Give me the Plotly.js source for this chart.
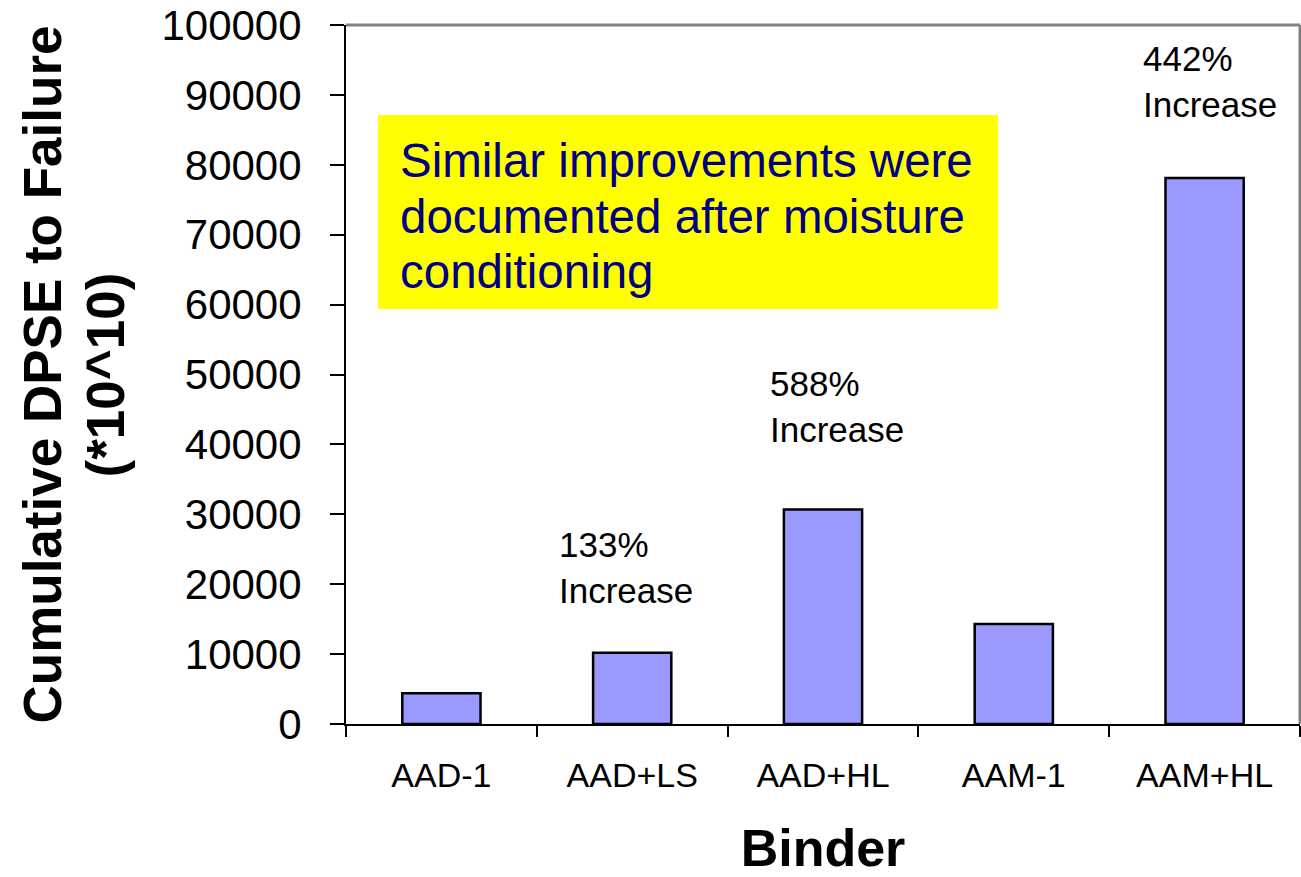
<!DOCTYPE html>
<html>
<head>
<meta charset="utf-8">
<script src="https://cdn.plot.ly/plotly-3.0.1.min.js"></script>
<style>html,body{margin:0;padding:0;background:#fff;}#chart{width:1301px;height:877px;}</style>
</head>
<body>
<div id="chart"></div>
<script>
const categories = ["AAD-1", "AAD+LS", "AAD+HL", "AAM-1", "AAM+HL"];
const dpseValues = [4400, 10200, 30700, 14300, 78100];
const increaseLabels = ["133%<br>Increase", "588%<br>Increase", "442%<br>Increase"];
const yTickValues = [0, 10000, 20000, 30000, 40000, 50000, 60000, 70000, 80000, 90000, 100000];
const noteLines = ["Similar improvements were", "documented after moisture", "conditioning"];
const yTitleLines = ["Cumulative DPSE to Failure", "(*10^10)"];
const xTitle = "Binder";

const FONT = "Liberation Sans, Arial, sans-serif";
// plot-area pixel geometry helpers (layout only)
const L = 346, T = 25, W = 954, H = 699;
const px = v => (v - L) / W;
const py = v => (T + H - v) / H;

const trace = {
  type: "bar",
  x: categories,
  y: dpseValues,
  marker: {color: "#9999FF", line: {color: "#000000", width: 2.5}},
  width: 0.41,
  hoverinfo: "x+y"
};

const annotations = [
  {x: px(557), y: py(523), text: increaseLabels[0]},
  {x: px(768), y: py(362), text: increaseLabels[1]},
  {x: px(1141), y: py(37), text: increaseLabels[2]}
].map(a => Object.assign({xref: "paper", yref: "paper", xanchor: "left", yanchor: "top",
  showarrow: false, align: "left", font: {family: FONT, size: 35, color: "#000000"}}, a));

const noteY = [160, 216, 271];
noteLines.forEach((t, i) => annotations.push({
  xref: "paper", yref: "paper", x: px(398), y: py(noteY[i]), xanchor: "left", yanchor: "middle",
  text: t, showarrow: false, align: "left", font: {family: FONT, size: 47.5, color: "#000080"}
}));

const titleX = [42, 105];
yTitleLines.forEach((t, i) => annotations.push({
  xref: "paper", yref: "paper", x: px(titleX[i]), y: 0.5, xanchor: "center", yanchor: "middle",
  text: t, textangle: -90, showarrow: false,
  font: {family: FONT, size: 53, color: "#000000", weight: "bold"}
}));

const layout = {
  width: 1301,
  height: 877,
  margin: {l: L, r: 1, t: T, b: 877 - T - H},
  paper_bgcolor: "#ffffff",
  plot_bgcolor: "#ffffff",
  showlegend: false,
  font: {family: FONT, color: "#000000"},
  xaxis: {
    type: "category",
    range: [-0.5, 4.5],
    showline: true, linecolor: "#000000", linewidth: 2,
    ticks: "outside", tickson: "boundaries", ticklen: 11, tickwidth: 1.5, tickcolor: "#000000",
    showgrid: false, zeroline: false,
    tickfont: {family: FONT, size: 34, color: "#000000"},
    ticklabelstandoff: 20,
    title: {text: xTitle, font: {family: FONT, size: 52, color: "#000000", weight: "bold"}, standoff: 47}
  },
  yaxis: {
    range: [0, 100000],
    tickvals: yTickValues,
    ticktext: yTickValues.map(String),
    showline: true, linecolor: "#000000", linewidth: 2,
    ticks: "outside", ticklen: 14, tickwidth: 1.5, tickcolor: "#000000",
    showgrid: false, zeroline: false,
    tickfont: {family: FONT, size: 42, color: "#000000"},
    ticklabelstandoff: 20
  },
  shapes: [
    {type: "rect", xref: "paper", yref: "paper", x0: px(378), x1: px(998), y0: py(309), y1: py(115),
     fillcolor: "#FFFF00", line: {width: 0}, layer: "below"},
    {type: "line", xref: "paper", yref: "paper", x0: 0, x1: 1, y0: 1, y1: 1, line: {color: "#808080", width: 3}},
    {type: "line", xref: "paper", yref: "paper", x0: 1, x1: 1, y0: 0, y1: 1, line: {color: "#808080", width: 3}}
  ],
  annotations: annotations
};

Plotly.newPlot("chart", [trace], layout, {displayModeBar: false, responsive: false});
</script>
</body>
</html>
